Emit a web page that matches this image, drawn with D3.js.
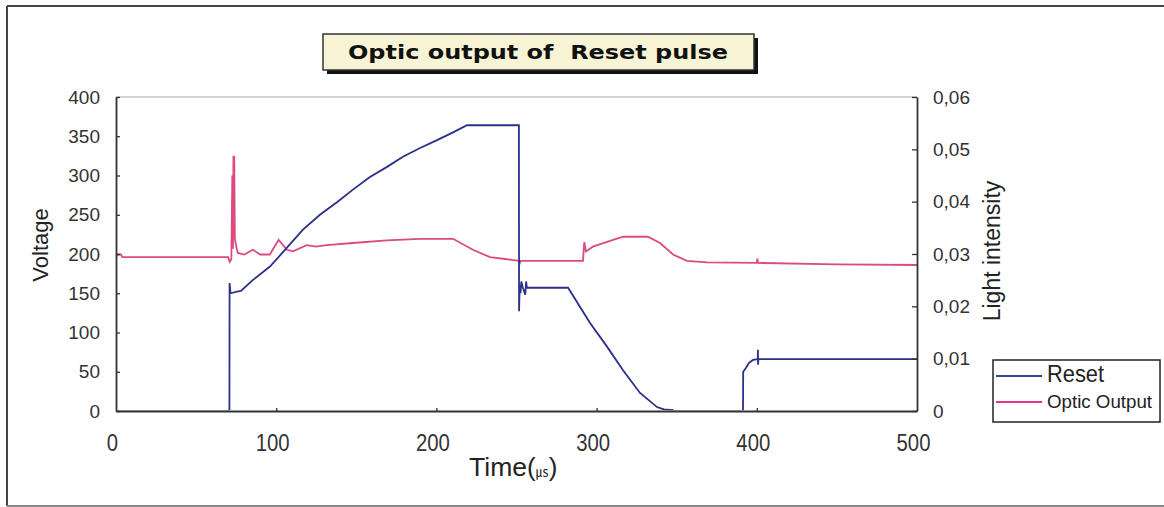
<!DOCTYPE html>
<html><head><meta charset="utf-8">
<script src="https://cdn.jsdelivr.net/npm/d3@7"></script>
<style>html,body{margin:0;padding:0;background:#fff;} svg{display:block;}</style>
</head><body>
<svg id="chart" width="1164" height="507"></svg>
<script>
const resetTime = [0, 70.8, 70.9, 71.5, 75.5, 78, 85.5, 96.1, 106.7, 116.7, 127.3, 137.9, 147.9, 158.5, 169.2, 179.1, 189.8, 200.4, 210.4, 219.1, 251.5, 251.6, 252, 252.5, 253, 254, 255.5, 256, 256.5, 282.2, 295.9, 306.5, 316.5, 327.1, 337.7, 342, 347.7, 348, 391.4, 391.5, 393.3, 395, 397.6, 400.6, 400.7, 400.8, 401, 500];
const resetVoltage = [0, 0, 163, 150, 152, 153, 167, 184, 208, 231, 250, 266, 282, 298, 311, 324, 335, 345, 355, 364, 364, 127, 160, 150, 165, 157, 148, 165, 157, 157, 112, 82, 52, 23, 5, 2, 1, 0, 0, 50, 55, 61, 65, 66, 78, 59, 66, 66];
const opticTime = [0, 1, 3, 4, 70, 71, 72, 72.6, 73, 73.3, 73.8, 74.2, 74.6, 76, 80, 85.5, 90, 96, 101.5, 106.7, 110.5, 119, 125, 131.5, 147.9, 169, 190, 210.4, 222.8, 233.5, 244, 251.5, 252, 252.6, 291.5, 292.3, 293.3, 297.7, 306.5, 316.5, 332, 339.6, 347.7, 356.4, 369, 400, 400.4, 400.8, 450, 500];
const opticLight = [0.0294, 0.0299, 0.0299, 0.0294, 0.0294, 0.0285, 0.029, 0.045, 0.031, 0.0486, 0.0486, 0.033, 0.0321, 0.0302, 0.0299, 0.0308, 0.0299, 0.0299, 0.0327, 0.0308, 0.0305, 0.0317, 0.0314, 0.0317, 0.0321, 0.0326, 0.0329, 0.0329, 0.0308, 0.0294, 0.029, 0.0287, 0.0282, 0.0287, 0.0287, 0.0323, 0.0305, 0.0314, 0.0323, 0.0333, 0.0333, 0.0321, 0.0299, 0.0287, 0.0284, 0.0283, 0.0291, 0.0283, 0.028, 0.0279];
const timeTicks = [0, 100, 200, 300, 400, 500];
const voltageTicks = [0, 50, 100, 150, 200, 250, 300, 350, 400];
const lightTicks = [0, 0.01, 0.02, 0.03, 0.04, 0.05, 0.06];
const lightTickLabels = ["0", "0,01", "0,02", "0,03", "0,04", "0,05", "0,06"];
const seriesNames = ["Reset", "Optic Output"];
const titleText = "Optic output of  Reset pulse";

const svg = d3.select("#chart");
const L = 116, R = 917, T = 97, B = 411;
const x = d3.scaleLinear().domain([0, 500]).range([L, R]);
const yV = d3.scaleLinear().domain([0, 400]).range([B, T]);
const yL = d3.scaleLinear().domain([0, 0.06]).range([B, T]);
const blue = "#2b3088", pink = "#dc4a82";
const sans = "'Liberation Sans', Arial, sans-serif";

svg.append("defs").append("clipPath").attr("id", "plotclip")
  .append("rect").attr("x", L).attr("y", T).attr("width", R - L).attr("height", B - T - 0.8);

// outer frame
svg.append("line").attr("x1", 7).attr("y1", 6).attr("x2", 1164).attr("y2", 6).attr("stroke", "#444").attr("stroke-width", 2);
svg.append("line").attr("x1", 7).attr("y1", 6).attr("x2", 7).attr("y2", 506).attr("stroke", "#444").attr("stroke-width", 2);
svg.append("line").attr("x1", 7).attr("y1", 506).attr("x2", 1164).attr("y2", 506).attr("stroke", "#888").attr("stroke-width", 2);

// title box
svg.append("rect").attr("x", 327).attr("y", 38).attr("width", 431).attr("height", 36).attr("fill", "#111");
svg.append("rect").attr("x", 323).attr("y", 34).attr("width", 431).attr("height", 36).attr("fill", "#f6f4d4").attr("stroke", "#333").attr("stroke-width", 1.5);
svg.append("text").attr("x", 348).attr("y", 59).attr("textLength", 380).attr("lengthAdjust", "spacingAndGlyphs")
  .style("white-space", "pre").attr("font-family", "'DejaVu Sans', sans-serif").attr("font-weight", "bold").attr("font-size", 19)
  .attr("fill", "#111").text(titleText);

// series
const resetData = resetTime.map((t, i) => ({ t, v: resetVoltage[i] }));
const opticData = opticTime.map((t, i) => ({ t, v: opticLight[i] }));
const gS = svg.append("g").attr("clip-path", "url(#plotclip)");
gS.append("path").datum(opticData).attr("fill", "none").attr("stroke", pink).attr("stroke-width", 1.8)
  .attr("d", d3.line().x(d => x(d.t)).y(d => yL(d.v)));
gS.append("path").datum(resetData).attr("fill", "none").attr("stroke", blue).attr("stroke-width", 1.8)
  .attr("d", d3.line().x(d => x(d.t)).y(d => yV(d.v)));

// plot top border
svg.append("line").attr("x1", L).attr("x2", R).attr("y1", T).attr("y2", T).attr("stroke", "#aaa").attr("stroke-width", 1.2);

// axes
const gL = svg.append("g").attr("transform", `translate(${L},0)`)
  .call(d3.axisLeft(yV).tickValues(voltageTicks).tickSizeInner(-4).tickSizeOuter(0).tickPadding(16));
const gR = svg.append("g").attr("transform", `translate(${R},0)`)
  .call(d3.axisRight(yL).tickValues(lightTicks).tickFormat((d, i) => lightTickLabels[i]).tickSizeInner(-5).tickSizeOuter(0).tickPadding(16));
const gB = svg.append("g").attr("transform", `translate(0,${B})`)
  .call(d3.axisBottom(x).tickValues(timeTicks).tickSizeInner(-3).tickSizeOuter(0).tickPadding(23));
[gL, gR, gB].forEach(g => {
  g.select(".domain").attr("stroke", "#333").attr("stroke-width", 1.8);
  g.selectAll(".tick line").attr("stroke", "#333").attr("stroke-width", 1.3);
});
gL.selectAll(".tick text").attr("font-family", sans).attr("font-size", 19).attr("fill", "#333");
gR.selectAll(".tick text").attr("font-family", sans).attr("font-size", 19).attr("fill", "#333");
gB.selectAll(".tick text").attr("font-family", sans).attr("font-size", 24).attr("fill", "#333").attr("dx", -4)
  .attr("textLength", d => String(d).length * 11.3).attr("lengthAdjust", "spacingAndGlyphs");
gB.selectAll(".tick").filter(d => d === 0 || d === 500).select("line").remove();

// axis titles
svg.append("text").attr("transform", "translate(48,245) rotate(-90)").attr("text-anchor", "middle")
  .attr("font-family", sans).attr("font-size", 22).attr("fill", "#222").text("Voltage");
svg.append("text").attr("transform", "translate(1000,251) rotate(-90)").attr("text-anchor", "middle")
  .attr("font-family", sans).attr("font-size", 23).attr("fill", "#222").text("Light intensity");
const tt = svg.append("text").attr("x", 469).attr("y", 476).attr("font-family", sans).attr("font-size", 26).attr("fill", "#222");
tt.append("tspan").attr("textLength", 58).attr("lengthAdjust", "spacingAndGlyphs").text("Time");
tt.append("tspan").text("(");
tt.append("tspan").attr("font-family", "'Noto Sans CJK KR', sans-serif").attr("font-size", 13).text("㎲");
tt.append("tspan").text(")");

// legend
const lg = svg.append("g");
lg.append("rect").attr("x", 993).attr("y", 360).attr("width", 167).attr("height", 62).attr("fill", "#fff").attr("stroke", "#222").attr("stroke-width", 1.5);
lg.append("line").attr("x1", 996).attr("x2", 1042).attr("y1", 376).attr("y2", 376).attr("stroke", "#3a3f9a").attr("stroke-width", 1.8);
lg.append("line").attr("x1", 996).attr("x2", 1042).attr("y1", 402).attr("y2", 402).attr("stroke", "#e8338a").attr("stroke-width", 1.8);
lg.append("text").attr("x", 1047).attr("y", 382).attr("font-family", sans).attr("font-size", 24)
  .attr("textLength", 57).attr("lengthAdjust", "spacingAndGlyphs").attr("fill", "#222").text(seriesNames[0]);
lg.append("text").attr("x", 1047).attr("y", 408).attr("font-family", sans).attr("font-size", 19)
  .attr("textLength", 105).attr("lengthAdjust", "spacingAndGlyphs").attr("fill", "#222").text(seriesNames[1]);
</script>
</body></html>
